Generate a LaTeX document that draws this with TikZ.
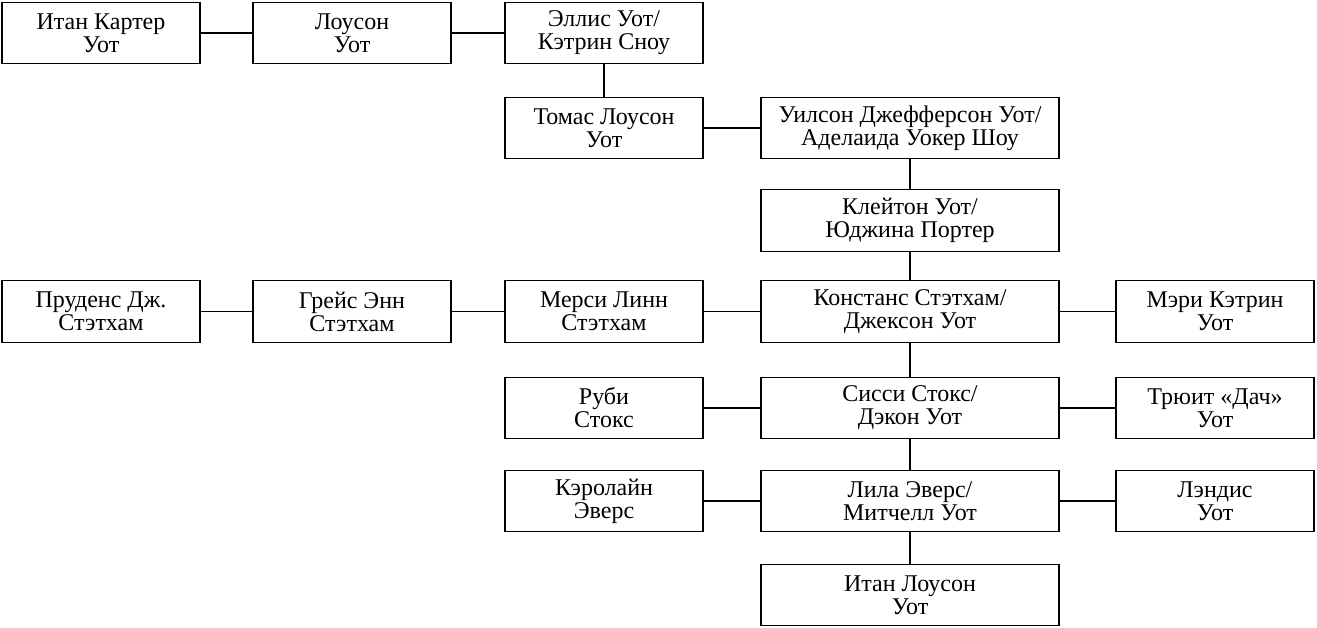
\documentclass[tikz,border=0pt]{standalone}
\usepackage{fontspec}
\setmainfont{Liberation Serif}
\usepackage{tikz}
\usetikzlibrary{positioning}

\begin{document}
\begin{tikzpicture}[x=1pt, y=1pt, font=\fontsize{24}{23}\selectfont,
  box/.style={draw, line width=1.2pt, outer sep=0pt, align=center, inner sep=1pt, minimum width=198pt, minimum height=61.5pt},
  wide/.style={box, minimum width=298pt},
  link/.style={line width=1.2pt}]
\useasboundingbox (0,0) rectangle (1317,-627);
% top line
\node[box] (ikarter) at (101,-33) {Итан Картер\\Уот};
\node[box, right=53pt of ikarter] (lawson) {Лоусон\\Уот};
\node[box, right=54pt of lawson] (ellis) {Эллис Уот/\\Кэтрин Сноу};
\node[box, below=33.5pt of ellis] (thomas) {Томас Лоусон\\Уот};
\node[wide, right=58pt of thomas] (wilson) {Уилсон Джефферсон Уот/\\Аделаида Уокер Шоу};
\node[wide, below=31pt of wilson] (clayton) {Клейтон Уот/\\Юджина Портер};
% Statham line
\node[wide, below=29.5pt of clayton] (constance) {Констанс Стэтхам/\\Джексон Уот};
\node[box, left=58pt of constance] (mercy) {Мерси Линн\\Стэтхам};
\node[box, left=54pt of mercy] (grace) {Грейс Энн\\Стэтхам};
\node[box, left=53pt of grace] (prudence) {Пруденс Дж.\\Стэтхам};
\node[box, right=57pt of constance] (mary) {Мэри Кэтрин\\Уот};
% lower lines
\node[wide, below=35pt of constance] (sissy) {Сисси Стокс/\\Дэкон Уот};
\node[box, left=58pt of sissy] (ruby) {Руби\\Стокс};
\node[box, right=57pt of sissy] (trewitt) {Трюит «Дач»\\Уот};
\node[wide, below=31.5pt of sissy] (lila) {Лила Эверс/\\Митчелл Уот};
\node[box, left=58pt of lila] (caroline) {Кэролайн\\Эверс};
\node[box, right=57pt of lila] (landis) {Лэндис\\Уот};
\node[wide, below=32.5pt of lila] (ethan) {Итан Лоусон\\Уот};

\draw[link] (ikarter) -- (lawson);
\draw[link] (lawson) -- (ellis);
\draw[link] (ellis) -- (thomas);
\draw[link] (thomas) -- (wilson);
\draw[link] (wilson) -- (clayton);
\draw[link] (clayton) -- (constance);
\draw[link] (prudence) -- (grace);
\draw[link] (grace) -- (mercy);
\draw[link] (mercy) -- (constance);
\draw[link] (constance) -- (mary);
\draw[link] (constance) -- (sissy);
\draw[link] (ruby) -- (sissy);
\draw[link] (sissy) -- (trewitt);
\draw[link] (sissy) -- (lila);
\draw[link] (caroline) -- (lila);
\draw[link] (lila) -- (landis);
\draw[link] (lila) -- (ethan);
\end{tikzpicture}
\end{document}
